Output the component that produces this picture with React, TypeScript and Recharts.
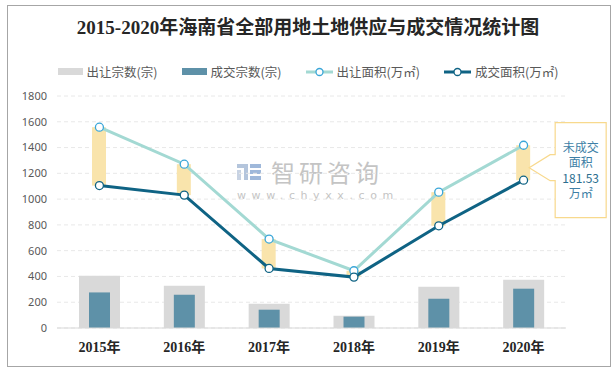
import {
  ComposedChart,
  Bar,
  Line,
  XAxis,
  YAxis,
  CartesianGrid,
  LabelList,
} from 'recharts'

const years = ['2015年', '2016年', '2017年', '2018年', '2019年', '2020年']
const supplyCount = [405, 328, 188, 95, 320, 374]
const dealCount = [276, 258, 142, 88, 227, 305]
const supplyArea = [1558, 1271, 690, 444, 1054, 1418]
const dealArea = [1105, 1031, 462, 395, 793, 1147]
const yTicks = [0, 200, 400, 600, 800, 1000, 1200, 1400, 1600, 1800]
const calloutLines = ['未成交', '面积', '181.53', '万㎡']

const data = years.map((year, i) => ({
  year,
  supplyCount: supplyCount[i],
  dealCount: dealCount[i],
  supplyArea: supplyArea[i],
  dealArea: dealArea[i],
  gap: [dealArea[i], supplyArea[i]],
}))

const C = {
  grayBar: '#D9D9D9',
  blueBar: '#5E91A8',
  supply: '#A3D9D3',
  supplyDot: '#3AA6D8',
  deal: '#0F6384',
  gap: '#F9E4AC',
  callout: '#F8D98D',
  calloutText: '#3E7FA6',
  text: '#595959',
}

const CJK = "'Noto Sans CJK SC', 'Noto Sans', sans-serif"

function Callout(props: any) {
  const { x, y, width, height, index } = props
  if (index !== years.length - 1) return null
  const tipX = x + width - 1
  const tipY = y + height / 2 + 5
  const boxL = tipX + 26
  const boxR = boxL + 51
  const top = tipY - 45
  const bottom = tipY + 50
  const notchX = boxL - 5
  const pts = [
    [boxL, top],
    [boxR, top],
    [boxR, bottom],
    [boxL, bottom],
    [boxL, tipY + 13],
    [notchX, tipY + 13],
    [tipX, tipY],
    [notchX, tipY - 13],
    [boxL, tipY - 13],
  ]
    .map((p) => p.join(','))
    .join(' ')
  const cx = (boxL + boxR) / 2
  return (
    <g>
      <polygon points={pts} fill="#fff" stroke={C.callout} strokeWidth={1.2} />
      {calloutLines.map((t, i) => (
        <text
          key={t}
          x={cx}
          y={tipY - 16 + i * 15.5}
          textAnchor="middle"
          fontSize={12}
          fontFamily={CJK}
          fill={i === 2 ? '#2B6E8F' : C.calloutText}
        >
          {t}
        </text>
      ))}
    </g>
  )
}

function LineDot({ cx, cy, stroke }: any) {
  return <circle cx={cx} cy={cy} r={4} fill="#fff" stroke={stroke} strokeWidth={1.3} />
}

function LegendRow() {
  const items = [
    { label: '出让宗数(宗)', kind: 'bar', color: C.grayBar },
    { label: '成交宗数(宗)', kind: 'bar', color: C.blueBar },
    { label: '出让面积(万㎡)', kind: 'line', color: C.supply, dot: C.supplyDot },
    { label: '成交面积(万㎡)', kind: 'line', color: C.deal, dot: C.deal },
  ]
  return (
    <div
      style={{
        position: 'absolute',
        top: 62,
        left: 0,
        width: 616,
        display: 'flex',
        justifyContent: 'center',
        gap: 24,
        fontFamily: CJK,
        fontSize: 12.5,
        color: C.text,
      }}
    >
      {items.map((it) => (
        <div key={it.label} style={{ display: 'flex', alignItems: 'center', gap: 4 }}>
          {it.kind === 'bar' ? (
            <div style={{ width: 25, height: 7, background: it.color }} />
          ) : (
            <svg width={27} height={10}>
              <line x1={0} y1={5} x2={27} y2={5} stroke={it.color} strokeWidth={3} />
              <circle cx={13.5} cy={5} r={3.5} fill="#fff" stroke={it.dot} strokeWidth={1.3} />
            </svg>
          )}
          <span>{it.label}</span>
        </div>
      ))}
    </div>
  )
}

function Watermark() {
  return (
    <div style={{ position: 'absolute', left: 237, top: 160, pointerEvents: 'none' }}>
      <div style={{ display: 'flex', alignItems: 'center', height: 24 }}>
        <svg width={26} height={16} style={{ marginRight: 8 }}>
          <rect x={0} y={0} width={11} height={4} fill="#B4C5DC" />
          <rect x={7} y={0} width={4} height={16} fill="#B4C5DC" />
          <rect x={0} y={6} width={4} height={10} fill="#C8D3E3" />
          <rect x={13} y={0} width={11} height={4} fill="#9FB8DA" />
          <rect x={13} y={6} width={11} height={4} fill="#9FB8DA" />
          <rect x={13} y={12} width={11} height={4} fill="#9FB8DA" />
        </svg>
        <span
          style={{
            fontFamily: CJK,
            fontSize: 24,
            letterSpacing: 4,
            color: '#C4C4C4',
            lineHeight: '24px',
          }}
        >
          智研咨询
        </span>
      </div>
      <div
        style={{
          fontFamily: "'DejaVu Sans', sans-serif",
          fontSize: 11,
          lineHeight: '12px',
          letterSpacing: 5.6,
          color: '#C4C4C4',
          marginTop: 6,
        }}
      >
        www.chyxx.com
      </div>
    </div>
  )
}

export default function App() {
  return (
    <div style={{ position: 'relative', width: 616, height: 370, background: '#fff' }}>
      <style>{'body{margin:0}'}</style>
      <div
        style={{
          position: 'absolute',
          left: 7,
          top: 5,
          width: 602,
          height: 360,
          border: '1px solid #A6A6A6',
        }}
      />
      <div
        style={{
          position: 'absolute',
          top: 12,
          left: 0,
          width: 616,
          textAlign: 'center',
          fontFamily: "'Liberation Serif', 'Noto Sans CJK SC', serif",
          fontWeight: 'bold',
          fontSize: 19,
          color: '#262626',
        }}
      >
        2015-2020年海南省全部用地土地供应与成交情况统计图
      </div>
      <LegendRow />
      <Watermark />
      <div style={{ position: 'absolute', left: 0, top: 0 }}>
        <ComposedChart
          width={616}
          height={370}
          data={data}
          margin={{ top: 96, right: 50, bottom: 12, left: 0 }}
        >
          <CartesianGrid
            vertical={false}
            stroke="#E8E8E8"
            strokeDasharray="4 3"
            xAxisId="main"
          />
          <XAxis
            xAxisId="main"
            dataKey="year"
            tickLine={false}
            axisLine={{ stroke: '#D9D9D9' }}
            tickMargin={8}
            height={30}
            tick={{
              fontSize: 14,
              fontWeight: 'bold',
              fill: '#262626',
              fontFamily: "'Liberation Serif', 'Noto Sans CJK SC', serif",
            }}
          />
          <XAxis xAxisId="inner" dataKey="year" hide height={0} />
          <XAxis xAxisId="gap" dataKey="year" hide height={0} />
          <YAxis
            domain={[0, 1800]}
            ticks={yTicks}
            width={57}
            tickLine={false}
            axisLine={false}
            tickMargin={4}
            tick={{ fontSize: 11, fill: C.text, fontFamily: "'Noto Sans', sans-serif" }}
          />
          <Bar
            xAxisId="main"
            dataKey="supplyCount"
            fill={C.grayBar}
            barSize={41}
            isAnimationActive={false}
          />
          <Bar
            xAxisId="inner"
            dataKey="dealCount"
            fill={C.blueBar}
            barSize={21}
            isAnimationActive={false}
          />
          <Bar
            xAxisId="gap"
            dataKey="gap"
            fill={C.gap}
            barSize={14}
            isAnimationActive={false}
          >
            <LabelList dataKey="gap" content={Callout} />
          </Bar>
          <Line
            xAxisId="main"
            dataKey="supplyArea"
            stroke={C.supply}
            strokeWidth={3}
            dot={<LineDot stroke={C.supplyDot} />}
            type="linear"
            isAnimationActive={false}
          />
          <Line
            xAxisId="main"
            dataKey="dealArea"
            stroke={C.deal}
            strokeWidth={3}
            dot={<LineDot stroke={C.deal} />}
            type="linear"
            isAnimationActive={false}
          />
        </ComposedChart>
      </div>
    </div>
  )
}
